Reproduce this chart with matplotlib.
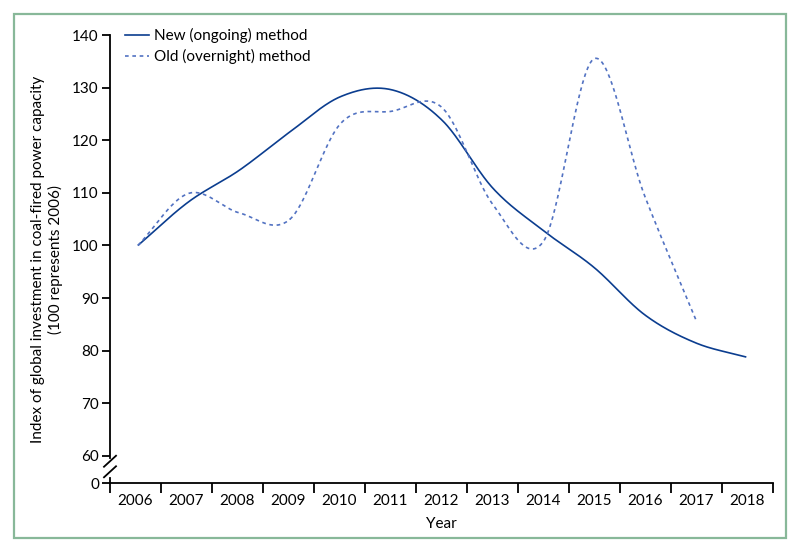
import numpy as np
import matplotlib
matplotlib.use("Agg")
import matplotlib.pyplot as plt
from matplotlib.lines import Line2D
from matplotlib.patches import Rectangle

plt.rcParams['font.family'] = ['Lato', 'DejaVu Sans']

years = [2006, 2007, 2008, 2009, 2010, 2011, 2012, 2013, 2014, 2015, 2016, 2017, 2018]
new_method = [100, 108.3, 114.3, 121.6, 128.3, 129.6, 123.8, 110.9, 102.8, 95.8, 86.8, 81.5, 78.8]
old_years = [2006, 2007, 2008, 2009, 2010, 2011, 2012, 2013, 2014, 2015, 2016, 2017]
old_method = [100, 109.9, 106.2, 105.0, 123.2, 125.5, 126.2, 107.8, 100.8, 135.5, 109.3, 86.0]
ytick_vals = [60, 70, 80, 90, 100, 110, 120, 130, 140]

BREAK_BOTTOM = 54.81   # where "0" is drawn
FS = 11


def catmull_rom(x, y, n=40):
    x = np.asarray(x, float)
    y = np.asarray(y, float)
    px = np.concatenate([[2 * x[0] - x[1]], x, [2 * x[-1] - x[-2]]])
    py = np.concatenate([[2 * y[0] - y[1]], y, [2 * y[-1] - y[-2]]])
    xs, ys = [], []
    t = np.linspace(0, 1, n)
    for i in range(1, len(px) - 2):
        p0, p1, p2, p3 = py[i - 1], py[i], py[i + 1], py[i + 2]
        q0, q1, q2, q3 = px[i - 1], px[i], px[i + 1], px[i + 2]
        f = lambda a0, a1, a2, a3: 0.5 * ((2 * a1) + (-a0 + a2) * t +
                                          (2 * a0 - 5 * a1 + 4 * a2 - a3) * t ** 2 +
                                          (-a0 + 3 * a1 - 3 * a2 + a3) * t ** 3)
        xs.append(f(q0, q1, q2, q3))
        ys.append(f(p0, p1, p2, p3))
    return np.concatenate(xs), np.concatenate(ys)


fig = plt.figure(figsize=(8, 5.53), dpi=100)
W, H = 800, 553

# green frame
fig.patches.append(Rectangle((14 / W, 1 - 538 / H), (786 - 14) / W, (538 - 14) / H,
                             transform=fig.transFigure, fill=False,
                             edgecolor='#88b899', linewidth=1.6))

ax = fig.add_axes([110 / W, 1 - 483.3 / H, (772.7 - 110) / W, (483.3 - 35) / H])

x_new = np.arange(len(years))
x_old = np.arange(len(old_years))
sx, sy = catmull_rom(x_new, new_method)
ax.plot(sx, sy, color='#0b3d8f', lw=1.2, solid_capstyle='butt')
ox, oy = catmull_rom(x_old, old_method)
ax.plot(ox, oy, color='#5272c2', lw=1.2, linestyle=(0, (2.2, 2.2)))

xmin, xmax = -0.55, 12.52
ax.set_xlim(xmin, xmax)
ax.set_ylim(BREAK_BOTTOM, 140)

for s in ['top', 'right', 'left']:
    ax.spines[s].set_visible(False)
ax.spines['bottom'].set_linewidth(1.3)

# y spine with break
ax.plot([xmin, xmin], [59.6, 140], color='black', lw=1.3, clip_on=False)
ax.plot([xmin, xmin], [BREAK_BOTTOM, 55.9], color='black', lw=1.3, clip_on=False)
inv = fig.transFigure.inverted()
for yc in [59.0, 57.0]:
    x0, y0 = ax.transData.transform((xmin, yc))
    a = inv.transform((x0 - 6, y0 - 5.5))
    b = inv.transform((x0 + 6, y0 + 5.5))
    fig.add_artist(Line2D([a[0], b[0]], [a[1], b[1]], color='black', lw=1.3,
                          transform=fig.transFigure))

ax.set_yticks([BREAK_BOTTOM] + ytick_vals)
ax.set_yticklabels(['0'] + [str(v) for v in ytick_vals])
ax.tick_params(axis='y', length=6, width=1.3, pad=2, labelsize=FS)

step = (xmax - xmin) / 13
bounds = [xmin + k * step for k in range(14)]
ax.set_xticks(bounds)
ax.set_xticklabels([])
ax.tick_params(axis='x', length=7, width=1.3, direction='out')
centers = [xmin + (k + 0.5) * step for k in range(13)]
ax.set_xticks(centers, minor=True)
ax.set_xticklabels([str(y) for y in years], minor=True)
ax.tick_params(axis='x', which='minor', length=0, pad=8, labelsize=FS)

ax.set_xlabel('Year', fontsize=FS, labelpad=6)
ax.set_ylabel('Index of global investment in coal-fired power capacity\n(100 represents 2006)',
              fontsize=FS, labelpad=7, linespacing=1.2)

h1 = Line2D([], [], color='#0b3d8f', lw=1.2)
h2 = Line2D([], [], color='#5272c2', lw=1.2, linestyle=(0, (2.2, 2.2)))
ax.legend([h1, h2], ['New (ongoing) method', 'Old (overnight) method'],
          loc='upper left', bbox_to_anchor=(125 / W, 1 - 28 / H),
          bbox_transform=fig.transFigure, frameon=False, fontsize=FS,
          handlelength=1.55, handletextpad=0.35, labelspacing=0.4, borderpad=0,
          borderaxespad=0)

fig.savefig('out.png', dpi=100)
